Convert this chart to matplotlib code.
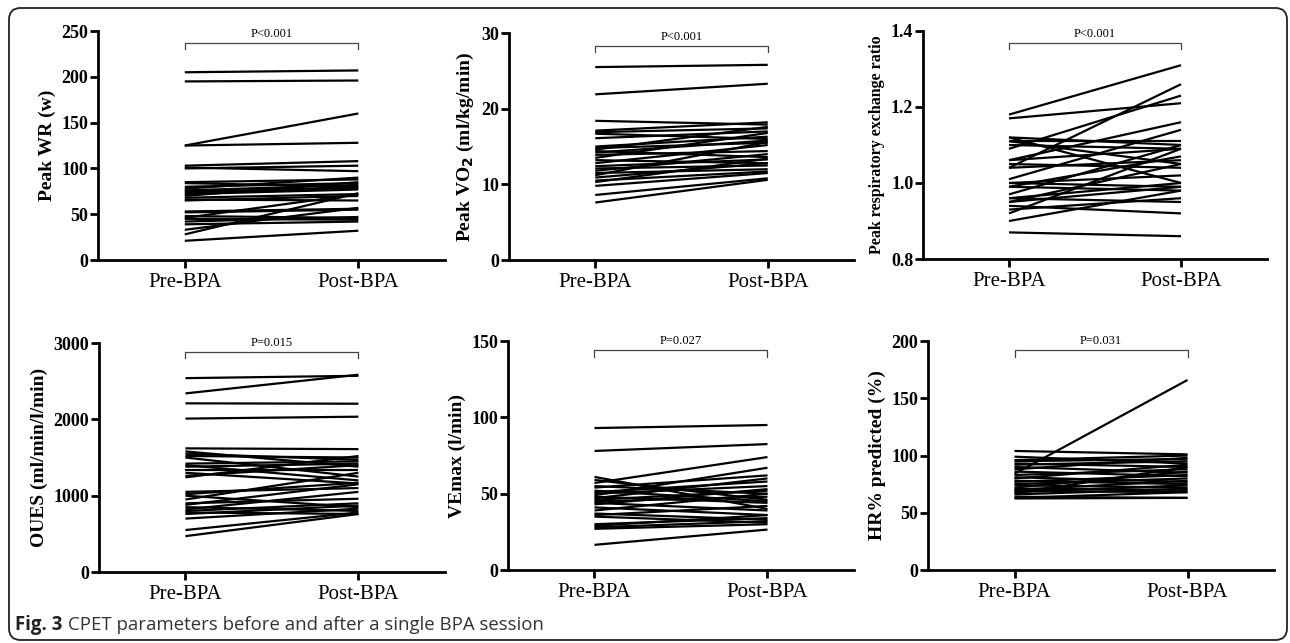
import matplotlib
matplotlib.use("Agg")
import matplotlib.pyplot as plt
from matplotlib.patches import FancyBboxPatch

groups = ["Pre-BPA", "Post-BPA"]

wr_pre  = [205, 195, 125, 125, 103, 101, 100, 85, 84, 80, 78, 76, 75, 73, 72, 70, 68, 66, 65, 53, 52, 48, 46, 45, 42, 39, 33, 28, 21]
wr_post = [207, 196, 160, 128, 108, 97, 103, 88, 80, 84, 90, 82, 78, 80, 77, 85, 72, 65, 70, 56, 55, 46, 72, 44, 47, 42, 57, 73, 32]

vo2_pre  = [25.5, 21.9, 18.4, 17.1, 16.9, 16.7, 16.1, 15.0, 14.8, 14.6, 14.4, 14.2, 13.9, 13.5, 13.2, 12.8, 12.4, 12.1, 11.8, 11.5, 11.2, 10.9, 10.5, 10.3, 9.8, 8.6, 7.6]
vo2_post = [25.8, 23.3, 17.9, 18.2, 17.4, 16.0, 17.0, 16.3, 15.5, 17.6, 13.6, 15.8, 14.4, 16.8, 12.8, 15.2, 13.3, 12.5, 14.0, 12.0, 15.6, 12.8, 11.7, 13.4, 11.5, 10.8, 10.6]

rer_pre  = [1.18, 1.17, 1.12, 1.12, 1.11, 1.11, 1.10, 1.09, 1.06, 1.06, 1.05, 1.04, 1.04, 1.01, 1.00, 1.00, 0.99, 0.99, 0.97, 0.96, 0.96, 0.95, 0.95, 0.94, 0.93, 0.92, 0.90, 0.87]
rer_post = [1.31, 1.21, 1.10, 1.00, 1.11, 1.05, 1.09, 1.23, 1.09, 1.16, 1.04, 1.26, 1.06, 1.14, 1.02, 0.99, 0.98, 1.07, 1.10, 0.95, 1.00, 1.05, 0.99, 0.92, 0.96, 1.09, 0.98, 0.86]

oues_pre  = [2540, 2340, 2210, 2010, 1620, 1580, 1550, 1520, 1500, 1420, 1400, 1380, 1340, 1300, 1260, 1240, 1050, 1020, 1000, 950, 900, 880, 850, 820, 800, 780, 760, 700, 550, 470]
oues_post = [2571, 2585, 2205, 2035, 1610, 1380, 1470, 1500, 1250, 1450, 1200, 1420, 1340, 1160, 1400, 1520, 1100, 1170, 850, 1300, 960, 1150, 800, 1050, 900, 760, 870, 830, 780, 760]

ve_pre  = [93, 78, 61, 59, 57, 55, 54, 52, 51, 50, 49, 48, 47, 46, 45, 44, 43, 41, 39, 37, 36, 35, 30, 29, 28, 27, 16.5]
ve_post = [95, 82.5, 40, 46, 74, 50, 62, 45, 58, 55, 67, 44, 60, 52, 48, 39, 53, 36, 50, 33, 42, 31, 34, 36, 32, 30, 26.5]

hr_pre  = [104, 99, 96, 95, 93, 92, 90, 88, 86, 84, 83, 81, 80, 78, 77, 75, 74, 72, 71, 70, 69, 68, 67, 66, 64, 63, 62.5]
hr_post = [101, 93, 100, 97, 90, 95, 85, 98, 82, 166, 88, 77, 92, 75, 83, 80, 72, 86, 70, 78, 68, 74, 90, 71, 63, 68, 63]

panels = [
    dict(pre=wr_pre, post=wr_post, ylabel="Peak WR (w)", ylim=(0, 250), ticks=[0, 50, 100, 150, 200, 250],
         fmt="{:.0f}", p="P<0.001", rect=[0.0760, 0.5956, 0.2690, 0.3561], by=0.949, ylfs=14),
    dict(pre=vo2_pre, post=vo2_post, ylabel="Peak VO$_\\mathbf{2}$ (ml/kg/min)", ylim=(0, 30), ticks=[0, 10, 20, 30],
         fmt="{:.0f}", p="P<0.001", rect=[0.3946, 0.5956, 0.2674, 0.3530], by=0.943, ylfs=14),
    dict(pre=rer_pre, post=rer_post, ylabel="Peak respiratory exchange ratio", ylim=(0.8, 1.4), ticks=[0.8, 1.0, 1.2, 1.4],
         fmt="{:.1f}", p="P<0.001", rect=[0.7155, 0.5972, 0.2667, 0.3546], by=0.949, ylfs=11.5),
    dict(pre=oues_pre, post=oues_post, ylabel="OUES (ml/min/l/min)", ylim=(0, 3000), ticks=[0, 1000, 2000, 3000],
         fmt="{:.0f}", p="P=0.015", rect=[0.0767, 0.1104, 0.2682, 0.3561], by=0.962, ylfs=14),
    dict(pre=ve_pre, post=ve_post, ylabel="VEmax (l/min)", ylim=(0, 150), ticks=[0, 50, 100, 150],
         fmt="{:.0f}", p="P=0.027", rect=[0.3938, 0.1135, 0.2682, 0.3561], by=0.96, ylfs=14),
    dict(pre=hr_pre, post=hr_post, ylabel="HR% predicted (%)", ylim=(0, 200), ticks=[0, 50, 100, 150, 200],
         fmt="{:.0f}", p="P=0.031", rect=[0.7194, 0.1135, 0.2682, 0.3561], by=0.96, ylfs=14),
]

serif = "Liberation Serif"
fig = plt.figure(figsize=(12.9, 6.43), dpi=100)

frame = FancyBboxPatch((9 / 1290, 3 / 643), 1278 / 1290, 632 / 643,
                       boxstyle="round,pad=0,rounding_size=0.009", transform=fig.transFigure,
                       fill=False, edgecolor="#222222", linewidth=1.3, mutation_aspect=2.0)
fig.patches.append(frame)

for pnl in panels:
    ax = fig.add_axes(pnl["rect"])
    for a, b in zip(pnl["pre"], pnl["post"]):
        ax.plot([0, 1], [a, b], color="black", linewidth=1.6, solid_capstyle="butt")
    ax.set_xlim(-0.5, 1.5)
    ax.set_ylim(*pnl["ylim"])
    ax.set_yticks(pnl["ticks"])
    ax.set_yticklabels([pnl["fmt"].format(t) for t in pnl["ticks"]], fontfamily=serif,
                       fontweight="bold", fontsize=13)
    ax.set_xticks([0, 1])
    ax.set_xticklabels(groups, fontfamily=serif, fontsize=15)
    for s in ["top", "right"]:
        ax.spines[s].set_visible(False)
    for s in ["left", "bottom"]:
        ax.spines[s].set_linewidth(2)
    ax.tick_params(axis="both", width=2, length=6, direction="out")
    ax.tick_params(axis="y", pad=1)
    ax.set_ylabel(pnl["ylabel"], fontfamily=serif, fontweight="bold", fontsize=pnl["ylfs"], labelpad=4)
    ax.patch.set_alpha(0)
    by = pnl["by"]
    tr = ax.get_xaxis_transform()
    ax.plot([0, 0, 1, 1], [by - 0.028, by, by, by - 0.028], transform=tr, color="#444444",
            linewidth=0.9, clip_on=False)
    ax.text(0.5, by + 0.012, pnl["p"], transform=tr, ha="center", va="bottom",
            fontfamily=serif, fontsize=9)

cy = 1 - 625 / 643
t1 = fig.text(15 / 1290, cy, "Fig. 3", fontfamily="Open Sans", fontweight="bold",
              fontsize=13.4, va="center", ha="left", color="#222222")
fig.canvas.draw()
bb = t1.get_window_extent(renderer=fig.canvas.get_renderer())
fig.text((bb.x1 + 6) / 1290, cy, "CPET parameters before and after a single BPA session",
         fontfamily="Open Sans", fontsize=13.4, va="center", ha="left", color="#333333")

fig.savefig("out.png", dpi=100)
